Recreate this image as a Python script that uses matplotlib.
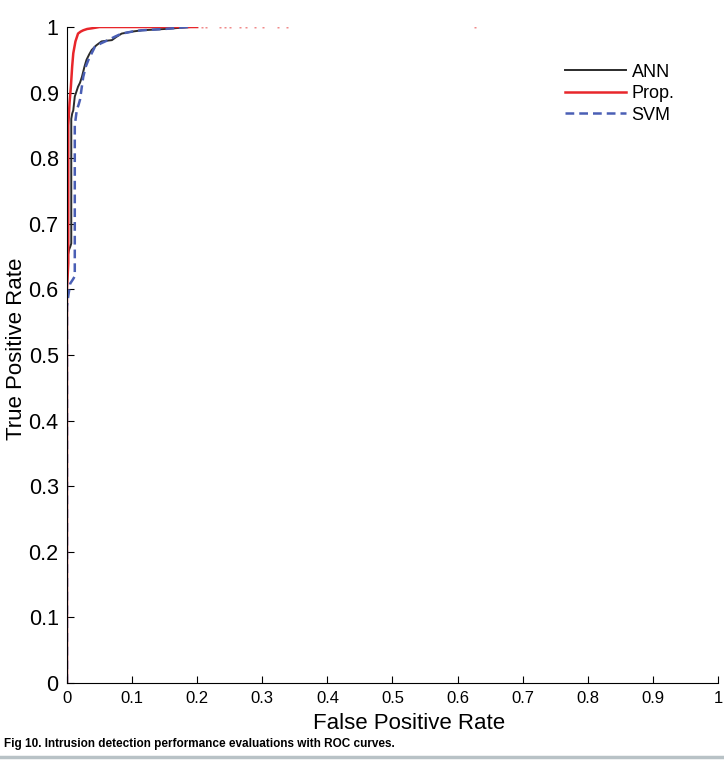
import numpy as np
import matplotlib
matplotlib.use('Agg')
import matplotlib.pyplot as plt

plt.rcParams['font.family'] = ['Liberation Sans', 'DejaVu Sans']

# ROC points (FPR, TPR)
ann_fpr = [0.0, 0.0, 0.001, 0.003, 0.005, 0.0066, 0.0066, 0.008, 0.0097, 0.012, 0.014,
           0.017, 0.020, 0.023, 0.027, 0.030, 0.034, 0.038, 0.045, 0.053, 0.060,
           0.069, 0.076, 0.084, 0.100, 0.115, 0.150, 0.19]
ann_tpr = [0.0, 0.60, 0.65, 0.66, 0.665, 0.67, 0.86, 0.868, 0.873, 0.894, 0.90,
           0.909, 0.915, 0.924, 0.94, 0.95, 0.958, 0.965, 0.972, 0.978, 0.979,
           0.980, 0.985, 0.990, 0.993, 0.995, 0.997, 1.0]

prop_fpr = [0.0, 0.0, 0.001, 0.002, 0.002, 0.004, 0.006, 0.008, 0.0097, 0.013,
            0.017, 0.021, 0.025, 0.031, 0.038, 0.05, 0.2]
prop_tpr = [0.0, 0.60, 0.62, 0.64, 0.85, 0.885, 0.909, 0.94, 0.96, 0.978,
            0.99, 0.993, 0.995, 0.997, 0.998, 1.0, 1.0]

svm_fpr = [0.0, 0.0, 0.002, 0.005, 0.009, 0.012, 0.012, 0.015, 0.018, 0.020,
           0.023, 0.025, 0.029, 0.033, 0.038, 0.043, 0.052, 0.063, 0.073, 0.084,
           0.100, 0.115, 0.150, 0.186]
svm_tpr = [0.0, 0.574, 0.59, 0.609, 0.615, 0.62, 0.85, 0.873, 0.882, 0.889,
           0.91, 0.924, 0.94, 0.95, 0.96, 0.97, 0.975, 0.98, 0.985, 0.99,
           0.993, 0.995, 0.997, 1.0]

# sparse red points along TPR = 1
prop_tail_fpr = [0.207, 0.214, 0.235, 0.243, 0.250, 0.266, 0.275, 0.289, 0.301,
                 0.324, 0.338, 0.627]

tick_labels = ['0', '0.1', '0.2', '0.3', '0.4', '0.5', '0.6', '0.7', '0.8', '0.9', '1']

fig = plt.figure(figsize=(7.24, 7.61), dpi=100)
ax = fig.add_axes([0.0925, 0.1025, 0.8992, 0.862])

ax.plot(ann_fpr, ann_tpr, color='#2b2b2b', lw=1.4, label='ANN')
ax.plot(prop_fpr, prop_tpr, color='#e8262b', lw=1.8, label='Prop.')
ax.plot(svm_fpr, svm_tpr, color='#4a5fb5', lw=1.8, ls=(0, (3.5, 2)), label='SVM')
ax.plot(prop_tail_fpr, [1.0] * len(prop_tail_fpr), ls='none', marker='s',
        ms=1.5, color='#f08a8a', mec='none')

ax.set_xlim(0, 1)
ax.set_ylim(0, 1)
ax.set_xticks(np.arange(0, 1.01, 0.1))
ax.set_yticks(np.arange(0, 1.01, 0.1))
ax.set_xticklabels(tick_labels, fontsize=12)
ax.set_yticklabels(tick_labels, fontsize=15.5)
ax.tick_params(direction='in', length=5, width=0.8)
ax.tick_params(axis='x', pad=6)
ax.tick_params(axis='y', pad=6)
for s in ['top', 'right']:
    ax.spines[s].set_visible(False)
ax.set_xlabel('False Positive Rate', fontsize=16, va='center')
ax.set_ylabel('True Positive Rate', fontsize=16, va='center')
ax.xaxis.set_label_coords(0.525, -0.0625)
ax.yaxis.set_label_coords(-0.077, 0.51)

ax.legend(loc='upper right', bbox_to_anchor=(0.958, 0.969), frameon=False,
          fontsize=13, handlelength=3.4, handletextpad=0.3, labelspacing=0.25)

fig.text(0.006, 0.0145, 'Fig 10. Intrusion detection performance evaluations with ROC curves.',
         fontsize=8.5, fontweight='bold', ha='left', va='bottom')
fig.add_artist(plt.Line2D([0, 1], [0.005, 0.005], color='#b8c2c6', lw=2.5))

fig.savefig('out.png', dpi=100)
